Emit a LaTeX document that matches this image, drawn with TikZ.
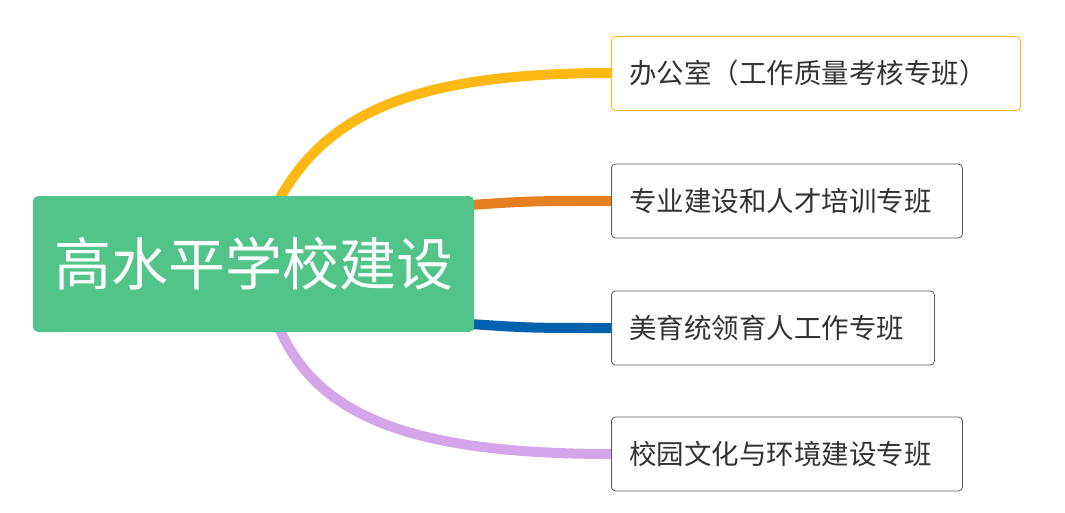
\documentclass[tikz,border=0pt]{standalone}
\usepackage{fontspec}
\setmainfont{Noto Sans CJK SC}
\definecolor{rootg}{HTML}{52C48A}
\definecolor{cy}{HTML}{FDB913}
\definecolor{co}{HTML}{E67E22}
\definecolor{cb}{HTML}{0061AE}
\definecolor{cp}{HTML}{D4A5E8}
\definecolor{tx}{HTML}{333333}
\begin{document}
\begin{tikzpicture}[x=1pt,y=-1pt,
  leaf/.style={draw=tx!80,line width=0.8pt,rounded corners=4pt,minimum height=74pt,anchor=west,font=\fontsize{27.5}{32}\selectfont,text=tx,inner xsep=18pt,align=left},
  link/.style={line width=10pt}]
\useasboundingbox (0,0) rectangle (1065,512);
\draw[link,cy] (280,198) .. controls (330,110) and (420,73) .. (612,73);
\draw[link,co] (470,205) .. controls (530,201) .. (612,201);
\draw[link,cb] (470,324) .. controls (530,328) .. (612,328);
\draw[link,cp] (280,330) .. controls (320,420) and (420,454) .. (612,454);
\node[fill=rootg,rounded corners=5pt,minimum width=441pt,minimum height=136pt,text=white,font=\fontsize{57}{64}\selectfont] (root) at (253.5,264) {高水平学校建设};
\node[leaf,draw=cy,text width=373pt] (a) at (611,73.5) {办公室（工作质量考核专班）};
\node[leaf,text width=315pt] (b) at (611,201) {专业建设和人才培训专班};
\node[leaf,text width=287pt] (c) at (611,328) {美育统领育人工作专班};
\node[leaf,text width=315pt] (d) at (611,454) {校园文化与环境建设专班};
\end{tikzpicture}
\end{document}
